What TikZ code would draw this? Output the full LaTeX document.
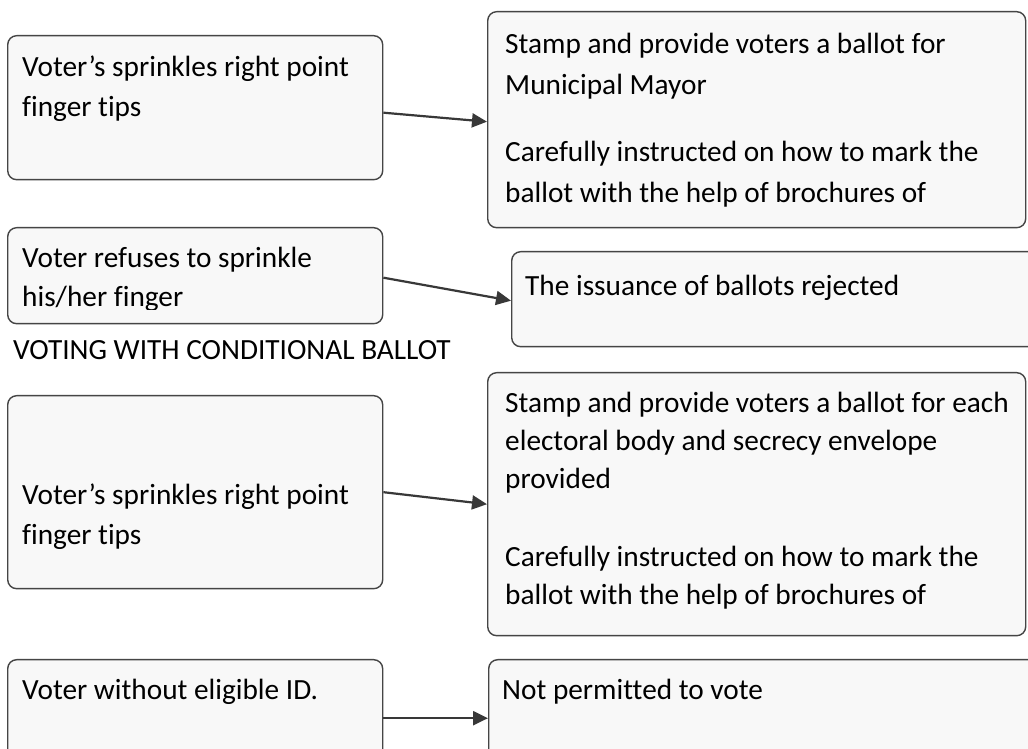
\documentclass[tikz,border=0pt]{standalone}
\usepackage{fontspec}
\setmainfont{Carlito}[Ligatures=NoCommon]
\usetikzlibrary{arrows.meta}
\definecolor{boxfill}{HTML}{F8F8F8}
\definecolor{boxline}{HTML}{454545}
\definecolor{arrowline}{HTML}{383838}
\tikzset{
  card/.style={draw=boxline, fill=boxfill, line width=1.4pt, rounded corners=9pt,
    inner sep=0pt, anchor=north west},
  txt/.style={anchor=base west, inner sep=0pt, text=black,
    font=\fontsize{29.3}{40}\selectfont},
  link/.style={draw=arrowline, line width=2.2pt, -{Triangle[length=15pt,width=14pt]}}
}
\begin{document}
\begin{tikzpicture}[x=1pt,y=1pt]
\useasboundingbox (0,0) rectangle (1028,749);
\clip (0,0) rectangle (1028,749);
\fill[white] (0,0) rectangle (1028,749);
% boxes
\node[card, minimum width=375pt, minimum height=144pt] (A1) at (7,714) {};
\node[card, minimum width=538pt, minimum height=216pt] (B1) at (487,738) {};
\node[card, minimum width=375pt, minimum height=96pt]  (A2) at (7,522) {};
\node[card, minimum width=560pt, minimum height=95pt]  (B2) at (511,498) {};
\node[card, minimum width=375pt, minimum height=193pt] (A3) at (7,354) {};
\node[card, minimum width=538pt, minimum height=263pt] (B3) at (487,377) {};
\node[card, minimum width=375pt, minimum height=130pt] (A4) at (7,90) {};
\node[card, minimum width=560pt, minimum height=130pt] (B4) at (488,90) {};
% connectors
\draw[link] ([yshift=-5pt]A1.east) -- ([yshift=-2pt]B1.west);
\draw[link] ([yshift=-2pt]A2.east) -- ([yshift=-1.5pt]B2.west);
\draw[link] (A3.east) -- (B3.west);
\draw[link] ([yshift=6.5pt]A4.east) -- ([yshift=6.5pt]B4.west);
% texts
\node[txt] (tA1) at (22,672) {\vtop{\baselineskip=40pt
  \hbox{Voter’s sprinkles right point}\hbox{finger tips}}};
\node[txt] (tB1) at (505,695) {\vtop{\baselineskip=40.5pt
  \hbox{Stamp and provide voters a ballot for}\hbox{Municipal Mayor}
  \vskip27pt
  \hbox{Carefully instructed on how to mark the}\hbox{ballot with the help of brochures of}}};
\begin{scope}
  \clip (7,439) rectangle (382,522);
  \node[txt] (tA2) at (22,481) {\vtop{\baselineskip=39pt
    \hbox{Voter refuses to sprinkle}\hbox{his/her finger}}};
\end{scope}
\node[txt] (lab) at (13,389) {VOTING WITH CONDITIONAL BALLOT};
\node[txt] (tB2) at (525,453) {The issuance of ballots rejected};
\node[txt] (tA3) at (22,244) {\vtop{\baselineskip=40pt
  \hbox{Voter’s sprinkles right point}\hbox{finger tips}}};
\node[txt] (tB3) at (505,336) {\vtop{\baselineskip=38pt
  \hbox{Stamp and provide voters a ballot for each}\hbox{electoral body and secrecy envelope}
  \hbox{provided}
  \vskip40pt
  \hbox{Carefully instructed on how to mark the}\hbox{ballot with the help of brochures of}}};
\node[txt] (tA4) at (22,49) {Voter without eligible ID.};
\node[txt] (tB4) at (502,49) {Not permitted to vote};
\end{tikzpicture}
\end{document}
